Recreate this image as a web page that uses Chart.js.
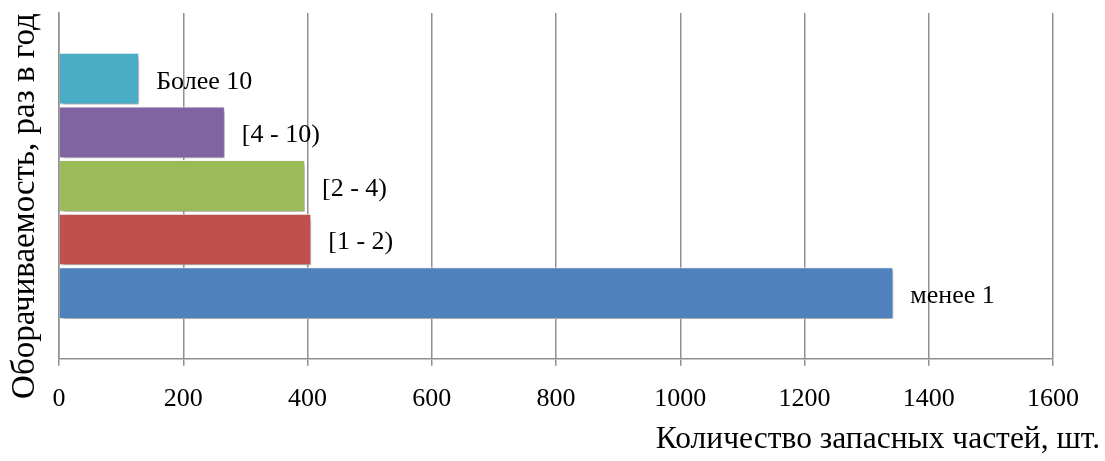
<!DOCTYPE html>
<html>
<head>
<meta charset="utf-8">
<script src="https://cdn.jsdelivr.net/npm/chart.js@4.4.1/dist/chart.umd.min.js"></script>
<style>
  html, body { margin: 0; padding: 0; background: #fff; }
  #wrap { width: 1105px; height: 461px; }
</style>
</head>
<body>
<div id="wrap"><canvas id="chart"></canvas></div>
<script>
// one category, five series (Excel order: first series at the bottom)
const categories = [''];
const seriesNames = ['менее 1', '[1 - 2)', '[2 - 4)', '[4 - 10)', 'Более 10'];
const seriesValues = [1343, 406, 396, 267, 129];
const seriesColors = ['#4F81BD', '#C0504D', '#9BBB59', '#8064A2', '#4BACC6'];
const xTickValues = [0, 200, 400, 600, 800, 1000, 1200, 1400, 1600];
const xTitle = 'Количество запасных частей, шт.';
const yTitle = 'Оборачиваемость, раз в год';

const serif = "'Liberation Serif', 'Times New Roman', serif";
const gridColor = '#8f8f8f';

// chart.js puts dataset 0 on top, so feed the series reversed
const datasets = seriesNames.map((name, i) => ({
    label: name,
    data: [seriesValues[i]],
    backgroundColor: seriesColors[i],
    borderColor: 'rgba(255,255,255,0.9)',
    borderWidth: 1,
    categoryPercentage: 0.775,
    barPercentage: 0.965
})).reverse();

// soft drop shadow under the bars
const shadowPlugin = {
    id: 'barShadow',
    beforeDatasetsDraw(chart) {
        const ctx = chart.ctx;
        ctx.save();
        ctx.shadowColor = 'rgba(0,0,0,0.4)';
        ctx.shadowBlur = 5;
        ctx.shadowOffsetX = 2;
        ctx.shadowOffsetY = 3;
    },
    afterDatasetsDraw(chart) {
        chart.ctx.restore();
    }
};

// series names next to the bar ends, plus both axis titles
const labelPlugin = {
    id: 'barLabels',
    afterDraw(chart) {
        const ctx = chart.ctx;
        ctx.save();
        ctx.fillStyle = '#000';
        ctx.font = '26px ' + serif;
        ctx.textAlign = 'left';
        ctx.textBaseline = 'middle';
        chart.data.datasets.forEach((ds, i) => {
            const bar = chart.getDatasetMeta(i).data[0];
            ctx.fillText(ds.label, bar.x + 17, bar.y + 3);
        });

        ctx.font = '31.5px ' + serif;
        ctx.textAlign = 'right';
        ctx.textBaseline = 'alphabetic';
        ctx.fillText(xTitle, 1100, 448);

        ctx.font = '33px ' + serif;
        ctx.translate(34, 206);
        ctx.rotate(-Math.PI / 2);
        ctx.textAlign = 'center';
        ctx.fillText(yTitle, 0, 0);
        ctx.restore();
    }
};

new Chart(document.getElementById('chart'), {
    type: 'bar',
    data: { labels: categories, datasets: datasets },
    options: {
        indexAxis: 'y',
        responsive: true,
        maintainAspectRatio: false,
        animation: false,
        layout: { padding: { left: 51, top: 13, right: 52, bottom: 28 } },
        plugins: {
            legend: { display: false },
            tooltip: { enabled: false }
        },
        scales: {
            x: {
                min: xTickValues[0],
                max: xTickValues[xTickValues.length - 1],
                afterBuildTicks(scale) {
                    scale.ticks = xTickValues.map(v => ({ value: v }));
                },
                grid: { color: gridColor, lineWidth: 1.5, tickLength: 7 },
                border: { color: gridColor, width: 1.5 },
                ticks: {
                    color: '#000',
                    padding: 18,
                    font: { family: serif, size: 26 },
                    callback: v => String(v)
                }
            },
            y: {
                grid: { display: false },
                border: { color: gridColor, width: 1.5 },
                ticks: { display: false }
            }
        }
    },
    plugins: [shadowPlugin, labelPlugin]
});
</script>
</body>
</html>
